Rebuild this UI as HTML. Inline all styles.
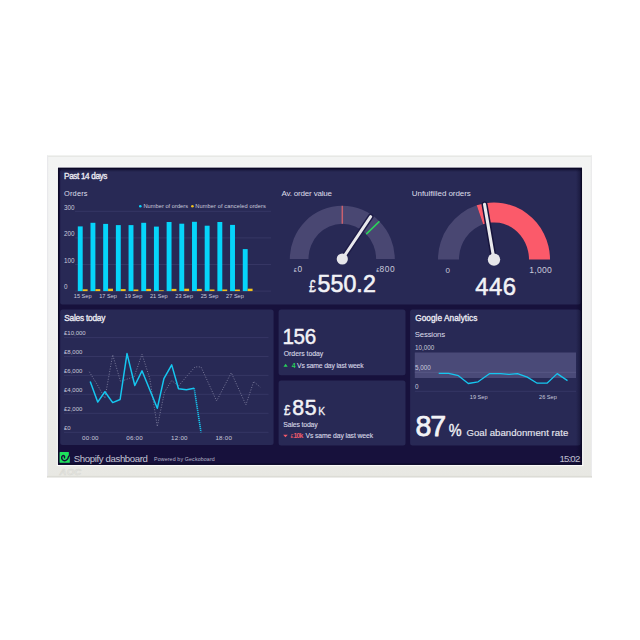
<!DOCTYPE html>
<html><head><meta charset="utf-8"><title>Shopify dashboard</title>
<style>
html,body{margin:0;padding:0;background:#fff;width:640px;height:640px;overflow:hidden}
svg{display:block;opacity:0.999}
text{font-family:"Liberation Sans", sans-serif}
</style></head>
<body>
<svg width="640" height="640" viewBox="0 0 640 640">
<defs>
<linearGradient id="rsh" x1="0" y1="0" x2="1" y2="0">
<stop offset="0" stop-color="#0a0824" stop-opacity="0"/><stop offset="1" stop-color="#0a0824" stop-opacity="0.55"/>
</linearGradient>
<linearGradient id="tsh" x1="0" y1="0" x2="0" y2="1">
<stop offset="0" stop-color="#0a0824" stop-opacity="0.6"/><stop offset="1" stop-color="#0a0824" stop-opacity="0"/>
</linearGradient>
<linearGradient id="bez" x1="0" y1="0" x2="0" y2="1">
<stop offset="0" stop-color="#f3f4f3"/><stop offset="0.5" stop-color="#f1f1f2"/><stop offset="1" stop-color="#e8e8e3"/>
</linearGradient>
</defs>
<rect x="0" y="0" width="640" height="640" fill="#ffffff"/>
<!-- monitor bezel -->
<rect x="47" y="155.6" width="545" height="321.8" fill="url(#bez)"/>
<rect x="47" y="155.6" width="545" height="1.2" fill="#e4e5e1"/>
<rect x="47" y="155.6" width="1.2" height="321.8" fill="#e9e9ec"/>
<rect x="590.8" y="155.6" width="1.2" height="321.8" fill="#ebebec"/>
<rect x="47" y="475.9" width="545" height="1.5" fill="#dcdcd6"/>
<rect x="56.8" y="166.7" width="526.5" height="299.4" fill="#fbfbfa"/>
<text x="59.5" y="475.3" font-size="9.5" font-weight="bold" fill="#e6e6e1" stroke="#d8d8d3" stroke-width="0.5" font-style="italic" letter-spacing="0.3">AOC</text>
<!-- screen -->
<rect x="58" y="167.8" width="524" height="297" fill="#17113c"/>
<rect x="58.6" y="168.4" width="522.8" height="295.8" fill="none" stroke="#0b0926" stroke-width="1.3"/>
<!-- panels -->
<rect x="60.2" y="169.3" width="520.4" height="135.3" rx="2" fill="#282955"/>
<rect x="60.2" y="309.4" width="213.4" height="135.7" rx="2.5" fill="#282955"/>
<rect x="278.6" y="309.5" width="126.9" height="65.7" rx="2.5" fill="#282955"/>
<rect x="278.6" y="380.4" width="126.9" height="65.2" rx="2.5" fill="#282955"/>
<rect x="410.1" y="309.4" width="170.5" height="136.2" rx="2.5" fill="#282955"/>
<rect x="576" y="168.5" width="5.6" height="296" fill="url(#rsh)"/>
<rect x="59" y="169" width="522.5" height="3" fill="url(#tsh)"/>
<line x1="75" y1="211.3" x2="271" y2="211.3" stroke="#3a3a68" stroke-width="0.8"/>
<line x1="75" y1="237.9" x2="271" y2="237.9" stroke="#3a3a68" stroke-width="0.8"/>
<line x1="75" y1="264.5" x2="271" y2="264.5" stroke="#3a3a68" stroke-width="0.8"/>
<line x1="75" y1="291.1" x2="271" y2="291.1" stroke="#3a3a68" stroke-width="0.8"/>
<text x="64.0" y="209.6" font-size="6.3" fill="#c9c9dc">300</text>
<text x="64.0" y="236.2" font-size="6.3" fill="#c9c9dc">200</text>
<text x="64.0" y="262.8" font-size="6.3" fill="#c9c9dc">100</text>
<text x="64.0" y="289.4" font-size="6.3" fill="#c9c9dc">0</text>
<rect x="77.80" y="226.4" width="4.9" height="64.70" fill="#06d4fa"/>
<rect x="82.70" y="289.30" width="4.9" height="1.8" fill="#f2c21b"/>
<rect x="90.49" y="222.8" width="4.9" height="68.30" fill="#06d4fa"/>
<rect x="95.39" y="289.10" width="4.9" height="2.0" fill="#f2c21b"/>
<rect x="103.18" y="223.9" width="4.9" height="67.20" fill="#06d4fa"/>
<rect x="108.08" y="288.70" width="4.9" height="2.4" fill="#f2c21b"/>
<rect x="115.87" y="225.1" width="4.9" height="66.00" fill="#06d4fa"/>
<rect x="120.77" y="289.10" width="4.9" height="2.0" fill="#f2c21b"/>
<rect x="128.56" y="225.1" width="4.9" height="66.00" fill="#06d4fa"/>
<rect x="133.46" y="289.50" width="4.9" height="1.6" fill="#f2c21b"/>
<rect x="141.25" y="222.8" width="4.9" height="68.30" fill="#06d4fa"/>
<rect x="146.15" y="288.90" width="4.9" height="2.2" fill="#f2c21b"/>
<rect x="153.94" y="226.6" width="4.9" height="64.50" fill="#06d4fa"/>
<rect x="158.84" y="290.30" width="4.9" height="0.8" fill="#f2c21b"/>
<rect x="166.63" y="222.0" width="4.9" height="69.10" fill="#06d4fa"/>
<rect x="171.53" y="288.90" width="4.9" height="2.2" fill="#f2c21b"/>
<rect x="179.32" y="223.7" width="4.9" height="67.40" fill="#06d4fa"/>
<rect x="184.22" y="288.70" width="4.9" height="2.4" fill="#f2c21b"/>
<rect x="192.01" y="221.8" width="4.9" height="69.30" fill="#06d4fa"/>
<rect x="196.91" y="288.90" width="4.9" height="2.2" fill="#f2c21b"/>
<rect x="204.70" y="225.7" width="4.9" height="65.40" fill="#06d4fa"/>
<rect x="209.60" y="289.50" width="4.9" height="1.6" fill="#f2c21b"/>
<rect x="217.39" y="222.0" width="4.9" height="69.10" fill="#06d4fa"/>
<rect x="222.29" y="289.50" width="4.9" height="1.6" fill="#f2c21b"/>
<rect x="230.08" y="224.9" width="4.9" height="66.20" fill="#06d4fa"/>
<rect x="234.98" y="289.50" width="4.9" height="1.6" fill="#f2c21b"/>
<rect x="242.77" y="249.1" width="4.9" height="42.00" fill="#06d4fa"/>
<rect x="247.67" y="288.70" width="4.9" height="2.4" fill="#f2c21b"/>
<text x="82.70" y="298.3" font-size="5.6" fill="#c9c9dc" text-anchor="middle">15 Sep</text>
<text x="108.08" y="298.3" font-size="5.6" fill="#c9c9dc" text-anchor="middle">17 Sep</text>
<text x="133.46" y="298.3" font-size="5.6" fill="#c9c9dc" text-anchor="middle">19 Sep</text>
<text x="158.84" y="298.3" font-size="5.6" fill="#c9c9dc" text-anchor="middle">21 Sep</text>
<text x="184.22" y="298.3" font-size="5.6" fill="#c9c9dc" text-anchor="middle">23 Sep</text>
<text x="209.60" y="298.3" font-size="5.6" fill="#c9c9dc" text-anchor="middle">25 Sep</text>
<text x="234.98" y="298.3" font-size="5.6" fill="#c9c9dc" text-anchor="middle">27 Sep</text>
<circle cx="140.3" cy="206.3" r="1.3" fill="#06d4fa"/>
<circle cx="192.4" cy="206.3" r="1.3" fill="#f2c21b"/>
<path d="M289.80 259.00 A52.5 53.2 0 0 1 394.80 259.00 L376.10 259.00 A33.8 35.2 0 0 0 308.50 259.00 Z" fill="#494772"/>
<line x1="342.30" y1="205.80" x2="342.30" y2="223.80" stroke="#c9606e" stroke-width="1.5"/>
<line x1="379.42" y1="221.38" x2="366.20" y2="234.11" stroke="#2bd45a" stroke-width="1.5"/>
<line x1="342.3" y1="259.0" x2="370.67" y2="216.62" stroke="#1e1c48" stroke-width="5.9" stroke-linecap="round"/><line x1="342.3" y1="259.0" x2="370.67" y2="216.62" stroke="#e9e9ec" stroke-width="2.9" stroke-linecap="round"/><circle cx="342.3" cy="259.0" r="5.6" fill="#e6e6ea"/>
<path d="M438.00 259.60 A56 57.1 0 0 1 476.70 205.29 L483.18 224.22 A35 37.2 0 0 0 459.00 259.60 Z" fill="#494772"/>
<path d="M476.70 205.29 A56 57.1 0 0 1 550.00 259.60 L529.00 259.60 A35 37.2 0 0 0 483.18 224.22 Z" fill="#fb5a6a"/>
<line x1="494.0" y1="259.6" x2="484.55" y2="204.40" stroke="#16143c" stroke-width="6.1" stroke-linecap="round"/><line x1="494.0" y1="259.6" x2="484.55" y2="204.40" stroke="#e9e9ec" stroke-width="3.1" stroke-linecap="round"/><circle cx="494.0" cy="259.6" r="6.2" fill="#e6e6ea"/>
<line x1="64" y1="337.6" x2="268.5" y2="337.6" stroke="#3a3a68" stroke-width="0.8"/>
<line x1="64" y1="356.5" x2="268.5" y2="356.5" stroke="#3a3a68" stroke-width="0.8"/>
<line x1="64" y1="375.4" x2="268.5" y2="375.4" stroke="#3a3a68" stroke-width="0.8"/>
<line x1="64" y1="394.3" x2="268.5" y2="394.3" stroke="#3a3a68" stroke-width="0.8"/>
<line x1="64" y1="413.3" x2="268.5" y2="413.3" stroke="#3a3a68" stroke-width="0.8"/>
<line x1="64" y1="432.3" x2="268.5" y2="432.3" stroke="#3a3a68" stroke-width="0.8"/>
<text x="64.0" y="335.3" font-size="6.0" fill="#c9c9dc">£10,000</text>
<text x="64.0" y="354.2" font-size="6.0" fill="#c9c9dc">£8,000</text>
<text x="64.0" y="373.1" font-size="6.0" fill="#c9c9dc">£6,000</text>
<text x="64.0" y="392.0" font-size="6.0" fill="#c9c9dc">£4,000</text>
<text x="64.0" y="411.0" font-size="6.0" fill="#c9c9dc">£2,000</text>
<text x="64.0" y="430.0" font-size="6.0" fill="#c9c9dc">£0</text>
<text x="90.4" y="439.6" font-size="6.2" letter-spacing="0.25" fill="#c9c9dc" text-anchor="middle">00:00</text>
<text x="134.6" y="439.6" font-size="6.2" letter-spacing="0.25" fill="#c9c9dc" text-anchor="middle">06:00</text>
<text x="179.4" y="439.6" font-size="6.2" letter-spacing="0.25" fill="#c9c9dc" text-anchor="middle">12:00</text>
<text x="223.75" y="439.6" font-size="6.2" letter-spacing="0.25" fill="#c9c9dc" text-anchor="middle">18:00</text>
<polyline points="89.3,371.8 97.5,385 104.9,398.2 112.7,354.8 120.5,381.5 127.5,379 134.2,376.7 142,354.2 149.8,378.6 157.3,426.5 164.5,392 171.7,380.5 178.5,386 187.3,375.6 195.1,366.9 201,366.9 216.6,401 231.3,372.7 245.9,404.9 253.7,381.5 260.5,387.4" fill="none" stroke="#8282a2" stroke-width="0.9" stroke-dasharray="1 1.6"/>
<polyline points="90.2,381.5 97.7,402.1 104.9,391.7 112.7,402.6 120.1,399.5 127,353.6 134.8,385.5 142,370.8 157.3,408.3 163.9,378.6 171.7,364.9 178.5,388.7 186.4,389.7 194.2,388.3" fill="none" stroke="#16c6ef" stroke-width="1.5" stroke-linejoin="round"/>
<line x1="194.2" y1="388.3" x2="201" y2="432.3" stroke="#16c6ef" stroke-width="1.6" stroke-dasharray="1.2 0.8"/>
<rect x="414.8" y="352.5" width="161.2" height="25.5" fill="#4a4a78"/>
<line x1="414.8" y1="372.3" x2="576" y2="372.3" stroke="#5a5a88" stroke-width="0.8"/>
<line x1="414.8" y1="391.3" x2="576" y2="391.3" stroke="#3a3a68" stroke-width="0.8"/>
<text x="414.9" y="349.8" font-size="6.3" fill="#c9c9dc">10,000</text>
<text x="414.9" y="369.5" font-size="6.3" fill="#c9c9dc">5,000</text>
<text x="414.9" y="389.1" font-size="6.3" fill="#c9c9dc">0</text>
<text x="478.7" y="399" font-size="5.6" fill="#c9c9dc" text-anchor="middle">19 Sep</text>
<text x="547.9" y="399" font-size="5.6" fill="#c9c9dc" text-anchor="middle">26 Sep</text>
<polyline points="438.7,373.4 448.6,373.4 458.4,375.7 468.3,383.5 478.1,381.8 489.4,373.7 500.6,373.7 509,374.3 517.5,373.7 527.3,377.1 537.2,383.2 547,383.2 557.2,373.6 567.5,380.6" fill="none" stroke="#16c6ef" stroke-width="1.3" stroke-linejoin="round"/>
<text id="t_Past14" x="64.02" y="179.1" font-size="8.2" fill="#ececf4" stroke="#ececf4" stroke-width="0.32" stroke-linejoin="round" textLength="43.43" lengthAdjust="spacing">Past 14 days</text>
<text id="t_Orders" x="64.05" y="195.8" font-size="7.4" fill="#dedeea" textLength="23.50" lengthAdjust="spacing">Orders</text>
<text id="t_AvOrder" x="281.51" y="195.65" font-size="8.0" fill="#dedeea" textLength="50.50" lengthAdjust="spacing">Av. order value</text>
<text id="t_Unfulf" x="411.81" y="196.1" font-size="8.0" fill="#dedeea" textLength="59.04" lengthAdjust="spacing">Unfulfilled orders</text>
<text id="t_leg1" x="143.49" y="208.3" font-size="5.7" fill="#c9c9dc" textLength="44.52" lengthAdjust="spacing">Number of orders</text>
<text id="t_leg2" x="195.35" y="208.3" font-size="5.7" fill="#c9c9dc" textLength="70.59" lengthAdjust="spacing">Number of canceled orders</text>
<text id="t_pound550" x="308.97" y="292.25" font-size="16" fill="#f2f2f6" stroke="#f2f2f6" stroke-width="0.4" stroke-linejoin="round" transform="translate(308.97 0) scale(0.78 1) translate(-308.97 0)">£</text>
<text id="t_n550" x="317.42" y="292.25" font-size="23.2" fill="#f2f2f6" stroke="#f2f2f6" stroke-width="0.6" stroke-linejoin="round" textLength="58.37" lengthAdjust="spacing">550.2</text>
<text id="t_n446" x="475.13" y="295.3" font-size="23.9" fill="#f2f2f6" stroke="#f2f2f6" stroke-width="0.5" stroke-linejoin="round" textLength="40.89" lengthAdjust="spacing">446</text>
<text id="t_g2_0" x="445.50" y="272.6" font-size="8" fill="#c9c9dc">0</text>
<text id="t_g2_1000" x="529.33" y="272.6" font-size="8.6" fill="#c9c9dc" textLength="22.55" lengthAdjust="spacing">1,000</text>
<text id="t_g1_p0" x="293.80" y="271.6" font-size="5.6" fill="#c9c9dc">£</text>
<text id="t_g1_0" x="297.57" y="271.7" font-size="8.4" fill="#c9c9dc">0</text>
<text id="t_g1_p800" x="376.30" y="271.6" font-size="5.6" fill="#c9c9dc">£</text>
<text id="t_g1_800" x="379.50" y="271.7" font-size="8.4" fill="#c9c9dc" textLength="15.26" lengthAdjust="spacing">800</text>
<text id="t_n156" x="282.40" y="344.2" font-size="22.9" fill="#f2f2f6" stroke="#f2f2f6" stroke-width="0.45" stroke-linejoin="round" textLength="37.65" lengthAdjust="spacing" transform="translate(282.40 0) scale(0.9 1) translate(-282.40 0)">156</text>
<text id="t_OrdersToday" x="283.72" y="356.0" font-size="6.9" fill="#d6d6e4" stroke="#d6d6e4" stroke-width="0.12" stroke-linejoin="round" textLength="39.55" lengthAdjust="spacing">Orders today</text>
<text id="t_four" x="291.64" y="367.7" font-size="6.8" fill="#27d05a" font-weight="bold">4</text>
<text id="t_Vs1" x="296.99" y="367.7" font-size="6.8" fill="#d6d6e4" stroke="#d6d6e4" stroke-width="0.12" stroke-linejoin="round" textLength="66.67" lengthAdjust="spacing">Vs same day last week</text>
<text id="t_pound85" x="283.99" y="414.8" font-size="14" fill="#f2f2f6" stroke="#f2f2f6" stroke-width="0.4" stroke-linejoin="round" transform="translate(283.99 0) scale(0.84 1) translate(-283.99 0)">£</text>
<text id="t_n85" x="292.37" y="414.8" font-size="21.3" fill="#f2f2f6" stroke="#f2f2f6" stroke-width="0.5" stroke-linejoin="round" textLength="24.36" lengthAdjust="spacing">85</text>
<text id="t_K" x="318.25" y="414.8" font-size="11.4" fill="#f2f2f6" stroke="#f2f2f6" stroke-width="0.3" stroke-linejoin="round" transform="translate(318.25 0) scale(0.9 1) translate(-318.25 0)">K</text>
<text id="t_SalesToday2" x="283.37" y="426.8" font-size="6.9" fill="#d6d6e4" stroke="#d6d6e4" stroke-width="0.12" stroke-linejoin="round" textLength="34.34" lengthAdjust="spacing">Sales today</text>
<text id="t_p10k" x="290.50" y="438" font-size="5.2" fill="#f05a6a">£</text>
<text id="t_n10k" x="293.60" y="438" font-size="6.8" fill="#f05a6a" font-weight="bold" textLength="9.80" lengthAdjust="spacing">10k</text>
<text id="t_Vs2" x="305.45" y="438" font-size="6.8" fill="#d6d6e4" stroke="#d6d6e4" stroke-width="0.12" stroke-linejoin="round" textLength="67.63" lengthAdjust="spacing">Vs same day last week</text>
<text id="t_SalesTitle" x="64.17" y="320.9" font-size="8.3" fill="#ececf4" stroke="#ececf4" stroke-width="0.32" stroke-linejoin="round" textLength="41.21" lengthAdjust="spacing">Sales today</text>
<text id="t_GATitle" x="415.21" y="321.0" font-size="8.3" fill="#ececf4" stroke="#ececf4" stroke-width="0.32" stroke-linejoin="round" textLength="62.14" lengthAdjust="spacing">Google Analytics</text>
<text id="t_Sessions" x="414.81" y="337.1" font-size="7.8" fill="#dedeea" textLength="30.25" lengthAdjust="spacing">Sessions</text>
<text id="t_n87" x="415.47" y="435.9" font-size="28.6" fill="#f2f2f6" stroke="#f2f2f6" stroke-width="0.75" stroke-linejoin="round" textLength="30.70" lengthAdjust="spacing">87</text>
<text id="t_pct" x="448.69" y="435.9" font-size="17.2" fill="#f2f2f6" stroke="#f2f2f6" stroke-width="0.45" stroke-linejoin="round" transform="translate(448.69 0) scale(0.84 1) translate(-448.69 0)">%</text>
<text id="t_Goal" x="466.43" y="436.0" font-size="9.6" fill="#e6e6ee" stroke="#e6e6ee" stroke-width="0.15" stroke-linejoin="round" textLength="101.89" lengthAdjust="spacing">Goal abandonment rate</text>
<text id="t_Shopify" x="73.83" y="461.9" font-size="9.6" fill="#c4c4d4" textLength="74.08" lengthAdjust="spacing">Shopify dashboard</text>
<text id="t_Powered" x="153.97" y="461.3" font-size="5.3" fill="#b4b4c8" textLength="60.80" lengthAdjust="spacing">Powered by Geckoboard</text>
<text id="t_time" x="559.40" y="461.9" font-size="9.6" fill="#bdbdcc" stroke="#bdbdcc" stroke-width="0.08" stroke-linejoin="round" textLength="20.86" lengthAdjust="spacing">15:02</text>
<!-- KPI panels -->
<path d="M283.5 366.8 L285.6 363.8 L287.7 366.8 Z" fill="#27d05a"/>
<path d="M283.2 434.8 L287.7 434.8 L285.45 437.2 Z" fill="#f45a6a"/>
<!-- footer -->
<path d="M59.6 452.4 Q59.6 451.9 60.1 451.9 L68.8 451.9 L68.9 456.4 L69.8 456.6 L69.8 462.3 Q69.8 462.8 69.3 462.8 L60.1 462.8 Q59.6 462.8 59.6 462.3 Z" fill="#1ee25c"/>
<path d="M64.5 457.7 C65.0 456.2 63.6 455.0 62.5 455.8 C61.1 456.9 61.4 460.0 63.8 460.6 C66.2 461.2 67.9 459.4 68.6 456.3" fill="none" stroke="#170f3a" stroke-width="1.45" stroke-linecap="round"/>
</svg>
</body></html>
